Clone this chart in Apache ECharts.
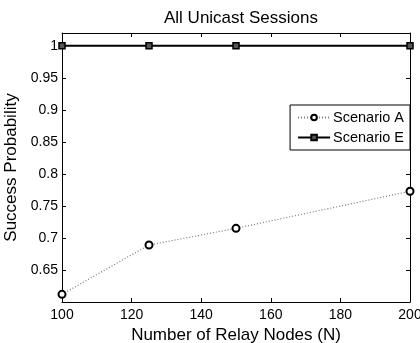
<!DOCTYPE html>
<html>
<head>
<meta charset="utf-8">
<script src="https://cdn.jsdelivr.net/npm/echarts@6/dist/echarts.min.js"></script>
<style>
  body { margin: 0; background: #fff; }
  #chart { width: 420px; height: 343px; }
</style>
</head>
<body>
<div id="chart"></div>
<script>
// relay node counts on the x axis
var relayNodes = [100, 125, 150, 200];
// success probability per scenario
var scenarioA = [0.612, 0.689, 0.715, 0.773];
var scenarioE = [1, 1, 1, 1];

var font = "Liberation Sans, Arial, sans-serif";

function pairs(vals) {
  return relayNodes.map(function (x, i) { return [x, vals[i]]; });
}

var chart = echarts.init(document.getElementById("chart"));
var option = {
  animation: false,
  backgroundColor: "#fff",
  title: {
    text: "All Unicast Sessions",
    left: 236,
    textAlign: "center",
    top: 5,
    textStyle: { fontFamily: font, fontSize: 17, fontWeight: "normal", color: "#000" }
  },
  legend: {
    orient: "vertical",
    right: 10,
    top: 105,
    padding: [5, 6, 5, 7],
    itemGap: 5,
    itemWidth: 32,
    itemHeight: 7,
    backgroundColor: "#fff",
    borderColor: "#000",
    borderWidth: 1,
    borderRadius: 0,
    textStyle: { fontFamily: font, fontSize: 14.5, color: "#000", padding: [0, 0, 0, -2] },
    data: ["Scenario A", "Scenario E"]
  },
  grid: { left: 62, right: 10, top: 33, bottom: 41, outerBoundsMode: "none", containLabel: false },
  xAxis: [{
    type: "value",
    min: 100,
    max: 200,
    interval: 20,
    name: "Number of Relay Nodes (N)",
    nameLocation: "middle",
    nameGap: 23,
    nameTextStyle: { fontFamily: font, fontSize: 17, color: "#000" },
    axisLine: { lineStyle: { color: "#000", width: 1 } },
    axisTick: { inside: true, length: 4, lineStyle: { color: "#000" } },
    axisLabel: { fontFamily: font, fontSize: 14, color: "#000", margin: 6 },
    splitLine: { show: false }
  }, {
    type: "value",
    position: "top",
    min: 100,
    max: 200,
    interval: 20,
    axisLine: { show: true, lineStyle: { color: "#000", width: 1 } },
    axisTick: { inside: true, length: 4, lineStyle: { color: "#000" } },
    axisLabel: { show: false },
    splitLine: { show: false }
  }],
  yAxis: [{
    type: "value",
    min: 0.6,
    max: 1.02,
    interval: 0.05,
    name: "Success Probability",
    nameLocation: "middle",
    nameGap: 41,
    nameTextStyle: { fontFamily: font, fontSize: 17, color: "#000" },
    axisLine: { show: true, lineStyle: { color: "#000", width: 1 } },
    axisTick: { inside: true, length: 4, lineStyle: { color: "#000" } },
    axisLabel: {
      fontFamily: font, fontSize: 14, color: "#000", margin: 4,
      showMinLabel: false, showMaxLabel: false,
      formatter: function (v) {
        if (v < 0.62 || v > 1.01) return "";
        return String(+v.toFixed(2));
      }
    },
    splitLine: { show: false }
  }, {
    type: "value",
    position: "right",
    min: 0.6,
    max: 1.02,
    interval: 0.05,
    axisLine: { show: true, lineStyle: { color: "#000", width: 1 } },
    axisTick: { inside: true, length: 4, lineStyle: { color: "#000" } },
    axisLabel: { show: false },
    splitLine: { show: false }
  }],
  series: [{
    name: "Scenario A",
    type: "line",
    data: pairs(scenarioA),
    symbol: "circle",
    symbolSize: 7,
    showAllSymbol: true,
    lineStyle: { color: "#777", width: 1.2, type: [1, 2] },
    itemStyle: { color: "#fff", borderColor: "#000", borderWidth: 2 },
    z: 3
  }, {
    name: "Scenario E",
    type: "line",
    data: pairs(scenarioE),
    symbol: "rect",
    symbolSize: 6,
    lineStyle: { color: "#000", width: 2 },
    itemStyle: { color: "#555", borderColor: "#000", borderWidth: 1.5 },
    z: 4
  }]
};
chart.setOption(option);
</script>
</body>
</html>
